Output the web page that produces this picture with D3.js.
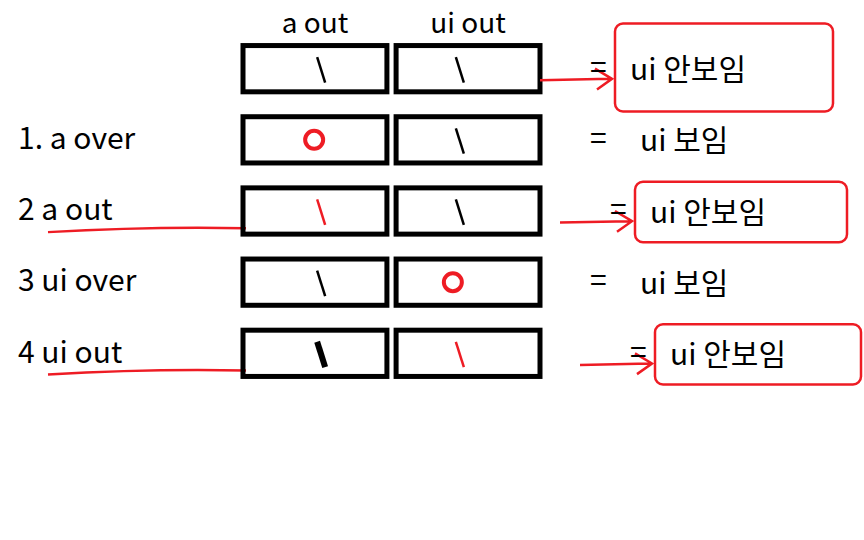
<!DOCTYPE html>
<html><head><meta charset="utf-8">
<script src="https://cdn.jsdelivr.net/npm/d3@7"></script>
<style>body{margin:0;background:#fff}</style>
</head><body>
<div id="chart"></div>
<script>
// columns and rows of the sketch
var columns = ["a out", "ui out"];
var rowLabels = ["", "1. a over", "2 a out", "3 ui over", "4 ui out"];
// mark in each box: "line" black, "redline", "circle" red, "thick" black
var marksA = ["line", "circle", "redline", "line", "thick"];
var marksUi = ["line", "line", "line", "circle", "redline"];
var results = ["ui 안보임", "ui 보임", "ui 안보임", "ui 보임", "ui 안보임"];
var highlighted = [true, false, true, false, true];
var underlined = [false, false, true, false, true];

var width = 864, height = 540;
var svg = d3.select("#chart").append("svg")
  .attr("width", width).attr("height", height);

var y = d3.scaleBand().domain(d3.range(rowLabels.length))
  .range([42, 380]).paddingInner(0.35).paddingOuter(0.05);
var x = d3.scaleBand().domain(columns).range([243, 540]).paddingInner(0.06);

var font = "'Noto Sans CJK KR', 'Noto Sans', sans-serif";
var red = "#ee1c24";

// header
svg.selectAll("text.head").data(columns).enter().append("text")
  .attr("x", function(d) { return x(d) + x.bandwidth() / 2; })
  .attr("y", 33).attr("text-anchor", "middle")
  .style("font-family", font).style("font-size", "28px")
  .text(function(d) { return d; });

var row = svg.selectAll("g.row").data(d3.range(rowLabels.length))
  .enter().append("g").attr("class", "row")
  .attr("transform", function(d) { return "translate(0," + y(d) + ")"; });

var h = y.bandwidth();

row.append("text").attr("x", 18).attr("y", h * 0.7)
  .style("font-family", font).style("font-size", "30px")
  .text(function(d) { return rowLabels[d]; });

row.filter(function(d) { return underlined[d]; }).append("path")
  .attr("d", "M48," + (h - 2) + " Q150," + (h - 8) + " 246," + (h - 6))
  .attr("fill", "none").attr("stroke", red).attr("stroke-width", 2.5);

columns.forEach(function(c, ci) {
  var marks = ci === 0 ? marksA : marksUi;
  row.append("rect")
    .attr("x", x(c)).attr("y", 0)
    .attr("width", x.bandwidth()).attr("height", h)
    .attr("fill", "none").attr("stroke", "#000").attr("stroke-width", 5);
  var cx = x(c) + x.bandwidth() * (ci === 0 ? 0.55 : 0.45);
  row.each(function(d) {
    var g = d3.select(this), m = marks[d];
    if (m === "circle") {
      g.append("circle").attr("cx", cx - 8).attr("cy", h / 2)
        .attr("r", 9).attr("fill", "none").attr("stroke", red).attr("stroke-width", 4);
    } else {
      g.append("path")
        .attr("d", "M" + (cx - 5) + "," + (h * 0.25) + " L" + (cx + 3) + "," + (h * 0.8))
        .attr("stroke", m === "redline" ? red : "#000")
        .attr("stroke-width", m === "thick" ? 6 : 2.5).attr("fill", "none");
    }
  });
});

// results
row.each(function(d) {
  var g = d3.select(this), rx = highlighted[d] ? 615 + d * 10 : 590;
  if (highlighted[d]) {
    g.append("path")
      .attr("d", "M" + (rx - 75) + "," + (h * 0.75) + " L" + (rx - 5) + "," + (h * 0.72) +
        " M" + (rx - 20) + "," + (h * 0.5) + " L" + (rx - 3) + "," + (h * 0.72) + " L" + (rx - 18) + "," + (h * 0.95))
      .attr("fill", "none").attr("stroke", red).attr("stroke-width", 2.5);
    g.append("rect").attr("x", rx).attr("y", d === 0 ? -22 : -6)
      .attr("width", 218 - d * 3).attr("height", d === 0 ? 88 : h + 14)
      .attr("rx", 8).attr("fill", "none").attr("stroke", red).attr("stroke-width", 2.5);
  }
  g.append("text").attr("x", rx - (highlighted[d] ? 25 : 0)).attr("y", h * 0.7)
    .style("font-family", font).style("font-size", "30px").text("=");
  g.append("text").attr("x", rx + (highlighted[d] ? 15 : 50)).attr("y", h * 0.75)
    .style("font-family", font).style("font-size", "30px").text(results[d]);
});
</script>
</body></html>
